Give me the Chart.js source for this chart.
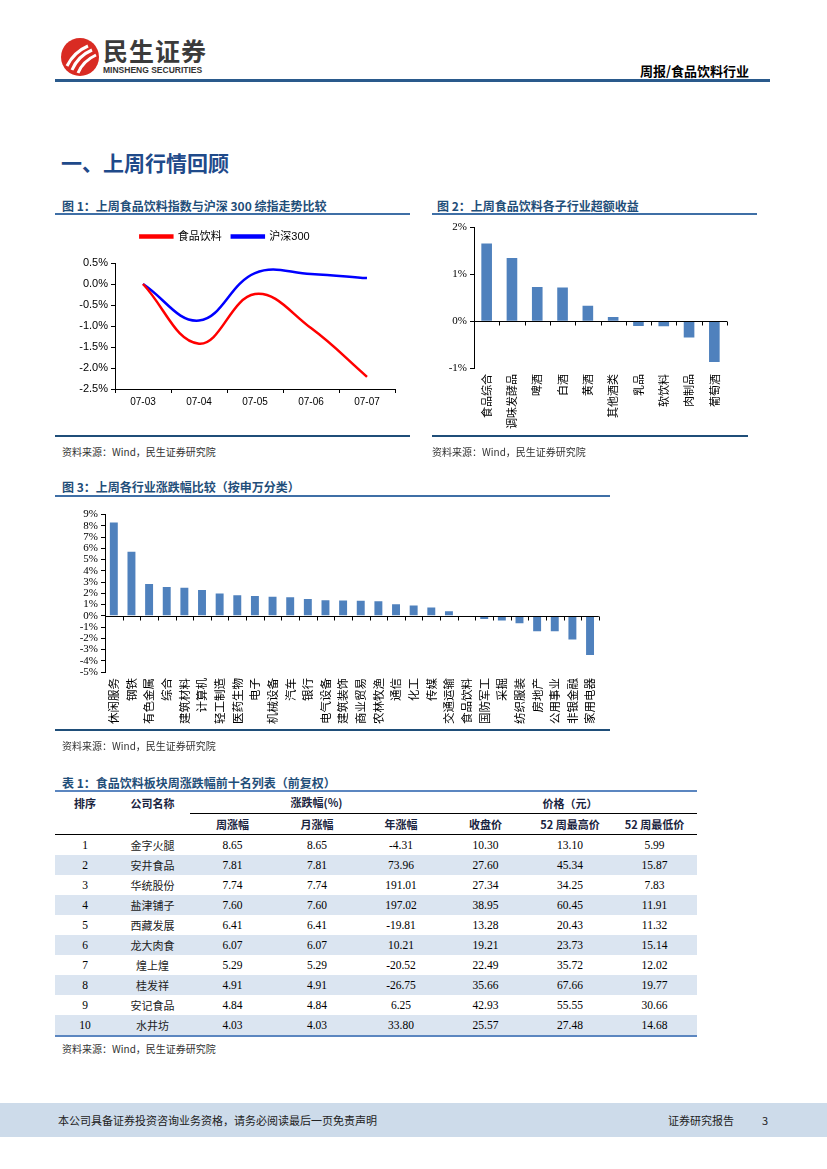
<!DOCTYPE html>
<html>
<head>
<meta charset="utf-8">
<script src="https://cdn.jsdelivr.net/npm/chart.js@4.4.1/dist/chart.umd.min.js"></script>
<style>
body{margin:0;width:827px;height:1169px;position:relative;background:#fff;overflow:hidden;font-family:"Noto Sans CJK SC",sans-serif;color:#000}
.a{position:absolute;white-space:nowrap}
.ttl{font-size:12px;font-weight:bold;color:#1f4e79;line-height:16px}
.src{font-size:10px;color:#333;line-height:14px}
.rule{position:absolute;height:2px;background:#3f6fa6}
.rule2{position:absolute;height:1.5px;background:#1f4e79}
canvas{position:absolute}
#tb{position:absolute;left:55px;top:790px;width:642px;border-collapse:collapse;table-layout:fixed;border-top:2px solid #5b86c0;border-bottom:2px solid #5b86c0}
#tb td,#tb th{padding:0;text-align:center;font-size:11.5px;font-family:"Liberation Serif","Noto Sans CJK SC",serif;height:20px;line-height:20px}
#tb th{font-family:"Noto Sans CJK SC",sans-serif;font-weight:bold;font-size:11px;color:#1a2440}
#tb td.nm{font-family:"Noto Sans CJK SC",sans-serif;font-size:11px;color:#222}
#tb tr.alt td{background:#dbe5f1}
</style>
</head>
<body>

<!-- 页眉 -->
<svg class="a" style="left:58px;top:36px" width="44" height="42" viewBox="0 0 44 42">
  <circle cx="22" cy="21" r="19" fill="#d92b23"/>
  <path d="M9 30 Q16 16 30 10" stroke="#fff" stroke-width="3" fill="none"/>
  <path d="M14 34 Q20 20 34 14" stroke="#fff" stroke-width="3" fill="none"/>
  <path d="M20 37 Q25 25 38 19" stroke="#fff" stroke-width="3" fill="none"/>
</svg>
<div class="a" style="left:103px;top:35px;font-size:25px;font-weight:bold;color:#3b3b3b;line-height:30px;letter-spacing:1px">民生证券</div>
<div class="a" style="left:103px;top:65px;font-size:8.5px;font-weight:bold;color:#333;line-height:11px;font-family:'Liberation Sans',sans-serif">MINSHENG SECURITIES</div>
<div class="a" style="left:640px;top:62px;font-size:13px;font-weight:bold;line-height:17px">周报/食品饮料行业</div>
<div class="a" style="left:55px;top:79px;width:715px;height:2.5px;background:#2a5a8c"></div>

<div class="a" style="left:61px;top:148px;font-size:21px;font-weight:bold;color:#1f4a8a;line-height:28px">一、上周行情回顾</div>

<!-- 图1 / 图2 标题 -->
<div class="a ttl" style="left:62px;top:198px">图 1：上周食品饮料指数与沪深 300 综指走势比较</div>
<div class="rule" style="left:55px;top:213px;width:355px"></div>
<div class="a ttl" style="left:437px;top:198px">图 2：上周食品饮料各子行业超额收益</div>
<div class="rule" style="left:432px;top:213px;width:325px"></div>

<canvas id="c1" width="355" height="196" style="left:55px;top:219px"></canvas>
<canvas id="c2" width="320" height="218" style="left:432px;top:218px"></canvas>

<div class="rule2" style="left:55px;top:435px;width:355px"></div>
<div class="rule2" style="left:432px;top:435px;width:316px"></div>
<div class="a src" style="left:62px;top:445px">资料来源：Wind，民生证券研究院</div>
<div class="a src" style="left:432px;top:445px">资料来源：Wind，民生证券研究院</div>

<!-- 图3 -->
<div class="a ttl" style="left:62px;top:479px">图 3：上周各行业涨跌幅比较（按申万分类）</div>
<div class="rule" style="left:55px;top:495px;width:555px"></div>
<canvas id="c3" width="555" height="228" style="left:55px;top:505px"></canvas>
<div class="rule2" style="left:55px;top:729px;width:555px"></div>
<div class="a src" style="left:62px;top:739px">资料来源：Wind，民生证券研究院</div>

<!-- 表1 -->
<div class="a ttl" style="left:62px;top:775px">表 1：食品饮料板块周涨跌幅前十名列表（前复权）</div>
<table id="tb"></table>
<div class="a src" style="left:62px;top:1042px">资料来源：Wind，民生证券研究院</div>

<!-- 页脚 -->
<div class="a" style="left:0;top:1103px;width:827px;height:34px;background:#cddbea"></div>
<div class="a" style="left:58px;top:1112px;font-size:11px;line-height:16px;color:#222">本公司具备证券投资咨询业务资格，请务必阅读最后一页免责声明</div>
<div class="a" style="left:668px;top:1112px;font-size:11px;line-height:16px;color:#222">证券研究报告</div>
<div class="a" style="left:762px;top:1112px;font-size:11px;line-height:16px;color:#222">3</div>

<script>
// 图1：指数走势
const dates = ['07-03', '07-04', '07-05', '07-06', '07-07'];
const foodBev = [0, -1.42, -0.24, -1.05, -2.21];
const hs300 = [0, -0.87, 0.26, 0.24, 0.14];

// 图2：子行业超额收益
const subInd = ['食品综合', '调味发酵品', '啤酒', '白酒', '黄酒', '其他酒类', '乳品', '软饮料', '肉制品', '葡萄酒'];
const subExcess = [1.66, 1.35, 0.73, 0.72, 0.33, 0.09, -0.10, -0.11, -0.35, -0.87];

// 图3：申万行业涨跌幅
const industries = ['休闲服务', '钢铁', '有色金属', '综合', '建筑材料', '计算机', '轻工制造', '医药生物', '电子', '机械设备',
    '汽车', '银行', '电气设备', '建筑装饰', '商业贸易', '农林牧渔', '通信', '化工', '传媒', '交通运输',
    '食品饮料', '国防军工', '采掘', '纺织服装', '房地产', '公用事业', '非银金融', '家用电器'];
const indChange = [8.30, 5.69, 2.82, 2.55, 2.49, 2.29, 1.99, 1.82, 1.76, 1.70,
    1.64, 1.50, 1.38, 1.35, 1.34, 1.29, 1.03, 0.91, 0.73, 0.41,
    -0.05, -0.28, -0.43, -0.66, -1.38, -1.38, -2.12, -3.48];

// 表1：前十名
const ranks = [1, 2, 3, 4, 5, 6, 7, 8, 9, 10];
const names = ['金字火腿', '安井食品', '华统股份', '盐津铺子', '西藏发展', '龙大肉食', '煌上煌', '桂发祥', '安记食品', '水井坊'];
const weekChg = ['8.65', '7.81', '7.74', '7.60', '6.41', '6.07', '5.29', '4.91', '4.84', '4.03'];
const monthChg = ['8.65', '7.81', '7.74', '7.60', '6.41', '6.07', '5.29', '4.91', '4.84', '4.03'];
const yearChg = ['-4.31', '73.96', '191.01', '197.02', '-19.81', '10.21', '-20.52', '-26.75', '6.25', '33.80'];
const closePx = ['10.30', '27.60', '27.34', '38.95', '13.28', '19.21', '22.49', '35.66', '42.93', '25.57'];
const high52 = ['13.10', '45.34', '34.25', '60.45', '20.43', '23.73', '35.72', '67.66', '55.55', '27.48'];
const low52 = ['5.99', '15.87', '7.83', '11.91', '11.32', '15.14', '12.02', '19.77', '30.66', '14.68'];

const CJK = "'Noto Sans CJK SC', sans-serif";
const SERIF = "'Liberation Serif', serif";

// 零轴线 + 分类间刻度
const eixoZero = {
    id: 'eixoZero',
    afterDatasetsDraw(chart) {
        const { ctx, chartArea, scales: { x, y } } = chart;
        const y0 = Math.round(y.getPixelForValue(0)) + 0.5;
        ctx.save();
        ctx.strokeStyle = '#000';
        ctx.lineWidth = 1;
        ctx.beginPath();
        ctx.moveTo(chartArea.left, y0);
        ctx.lineTo(chartArea.right, y0);
        for (let i = 0; i <= x.ticks.length; i++) {
            const px = Math.round(x.getPixelForValue(i - 0.5)) + 0.5;
            ctx.moveTo(px, y0);
            ctx.lineTo(px, y0 + 4);
        }
        ctx.stroke();
        ctx.restore();
    }
};

// espaço extra entre a legenda e o gráfico
const folgaLegenda = {
    id: 'folgaLegenda',
    beforeInit(chart) {
        const fitOriginal = chart.legend.fit;
        chart.legend.fit = function () {
            fitOriginal.call(this);
            this.height += 11;
        };
    }
};

function eixoY(min, max, step, largura, fmt) {
    return {
        min: min, max: max,
        ticks: { stepSize: step, autoSkip: false, color: '#000', font: { family: SERIF, size: 11 }, padding: 3, callback: fmt },
        grid: { drawOnChartArea: false, tickLength: 4, color: '#000' },
        border: { color: '#000' },
        afterFit: s => { s.width = largura; }
    };
}

function eixoX(altura, tam) {
    return {
        offset: true,
        grid: { display: false, drawTicks: false },
        border: { display: false },
        ticks: { color: '#000', font: { family: CJK, size: tam }, minRotation: 90, maxRotation: 90, autoSkip: false, padding: 6 },
        afterFit: s => { s.height = altura; }
    };
}

function inicializarGraficos() {
    Chart.defaults.animation = false;
    Chart.defaults.responsive = false;
    Chart.defaults.plugins.tooltip.enabled = false;

    new Chart(document.getElementById('c1'), {
        type: 'line',
        data: {
            labels: dates,
            datasets: [
                { label: '食品饮料', data: foodBev, borderColor: '#ff0000', backgroundColor: '#ff0000', borderWidth: 2.5, pointRadius: 0, tension: 0.4 },
                { label: '沪深300', data: hs300, borderColor: '#0000ff', backgroundColor: '#0000ff', borderWidth: 2.5, pointRadius: 0, tension: 0.4 }
            ]
        },
        options: {
            layout: { padding: { left: 0, right: 15, top: 2, bottom: 4 } },
            plugins: {
                legend: {
                    position: 'top',
                    labels: { boxWidth: 32, boxHeight: 2, padding: 10, color: '#000', font: { family: "'Liberation Sans', " + CJK, size: 11 } }
                }
            },
            scales: {
                x: {
                    offset: true,
                    grid: { offset: true, drawOnChartArea: false, tickLength: 4, color: '#000' },
                    border: { color: '#000' },
                    ticks: { color: '#000', font: { family: "'Liberation Sans', sans-serif", size: 10 }, maxRotation: 0 }
                },
                y: {
                    min: -2.5, max: 0.5,
                    ticks: { stepSize: 0.5, color: '#000', font: { family: "'Liberation Sans', sans-serif", size: 11 }, padding: 3, callback: v => v.toFixed(1) + '%' },
                    grid: { drawOnChartArea: false, tickLength: 4, color: '#000' },
                    border: { color: '#000' },
                    afterFit: s => { s.width = 60; }
                }
            }
        },
        plugins: [folgaLegenda]
    });

    new Chart(document.getElementById('c2'), {
        type: 'bar',
        data: {
            labels: subInd,
            datasets: [{ data: subExcess, backgroundColor: '#4f81bd', barPercentage: 0.42, categoryPercentage: 1 }]
        },
        options: {
            layout: { padding: { left: 0, right: 25, top: 2, bottom: 0 } },
            plugins: { legend: { display: false } },
            scales: {
                x: eixoX(68, 11),
                y: eixoY(-1, 2, 1, 42, v => v + '%')
            }
        },
        plugins: [eixoZero]
    });

    new Chart(document.getElementById('c3'), {
        type: 'bar',
        data: {
            labels: industries,
            datasets: [{
                data: indChange,
                backgroundColor: industries.map(n => n === '食品饮料' ? '#e0241b' : '#4f81bd'),
                barPercentage: 0.45, categoryPercentage: 1
            }]
        },
        options: {
            layout: { padding: { left: 0, right: 9, top: 2, bottom: 0 } },
            plugins: { legend: { display: false } },
            scales: {
                x: eixoX(61, 11.5),
                y: eixoY(-5, 9, 1, 50, v => v + '%')
            }
        },
        plugins: [eixoZero]
    });
}

function montarTabela() {
    const tb = document.getElementById('tb');
    const larg = [60, 75, 85, 84, 84, 85, 84, 85];
    let html = '<colgroup>' + larg.map(w => `<col style="width:${w}px">`).join('') + '</colgroup>';
    html += '<tr><th rowspan="2" style="vertical-align:top;height:22px;line-height:22px">排序</th>' +
        '<th rowspan="2" style="vertical-align:top;line-height:22px">公司名称</th>' +
        '<th colspan="3" style="height:21px;line-height:21px;border-bottom:1px solid #000">涨跌幅(%)</th>' +
        '<th colspan="3" style="border-bottom:1px solid #000">价格（元）</th></tr>';
    html += '<tr>' + ['周涨幅', '月涨幅', '年涨幅', '收盘价', '52 周最高价', '52 周最低价']
        .map(t => `<th style="border-bottom:1px solid #000">${t}</th>`).join('') + '</tr>';
    html += ranks.map((r, i) =>
        `<tr class="${i % 2 ? 'alt' : ''}"><td>${r}</td><td class="nm">${names[i]}</td><td>${weekChg[i]}</td><td>${monthChg[i]}</td>` +
        `<td>${yearChg[i]}</td><td>${closePx[i]}</td><td>${high52[i]}</td><td>${low52[i]}</td></tr>`
    ).join('');
    tb.innerHTML = html;
    tb.rows[0].cells[0].style.borderBottom = '1px solid #000';
    tb.rows[0].cells[1].style.borderBottom = '1px solid #000';
}

document.addEventListener('DOMContentLoaded', () => {
    montarTabela();
    inicializarGraficos();
});
</script>
</body>
</html>
